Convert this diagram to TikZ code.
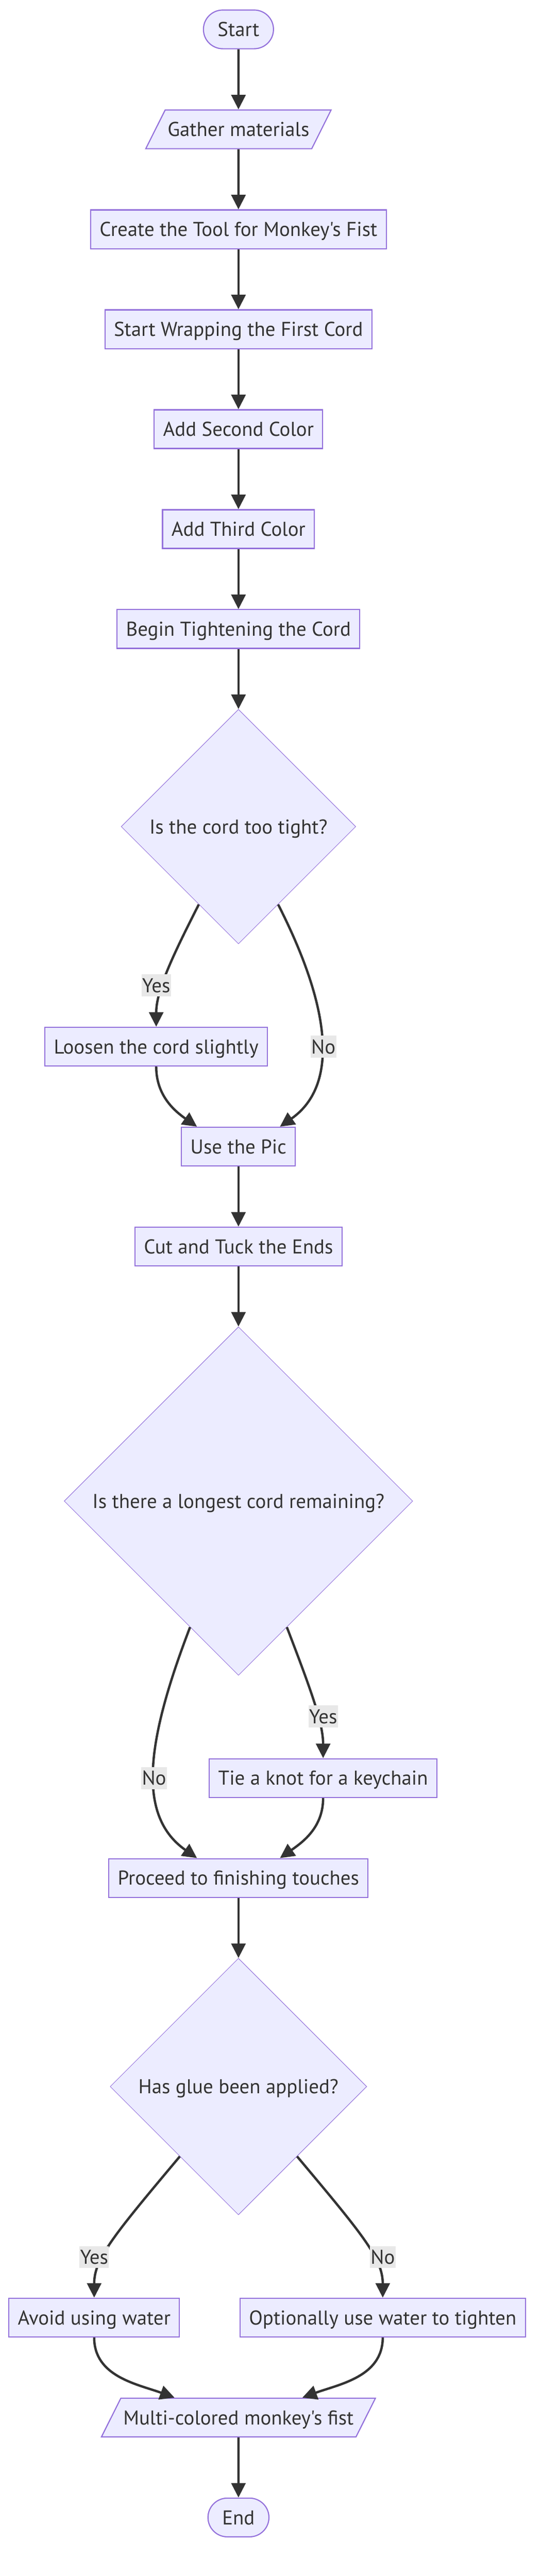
\documentclass[tikz,border=0pt]{standalone}
\usepackage{fontspec}
\setmainfont{PT Sans}[Ligatures=TeXOff]
\usetikzlibrary{positioning,shapes.geometric,arrows.meta}

\definecolor{nodefill}{HTML}{ECECFF}
\definecolor{nodeline}{HTML}{9370DB}
\definecolor{inkgray}{HTML}{333333}
\definecolor{labelfill}{HTML}{E8E8E8}

\begin{document}
\begin{tikzpicture}[
            node distance=87pt,
            every node/.style={font=\fontsize{29}{35}\selectfont, text=inkgray},
            stepnode/.style={rectangle, draw=nodeline, fill=nodefill, line width=1.6pt, text height=24.65pt, text depth=4.35pt, inner xsep=12.9pt, inner ysep=13.5pt},
            termnode/.style={stepnode, rounded corners=28pt, inner xsep=20.6pt},
            ionode/.style={trapezium, trapezium left angle=63.4, trapezium right angle=116.6, draw=nodeline, fill=nodefill, line width=1.6pt, text height=24.65pt, text depth=4.35pt, inner xsep=3.5pt, inner ysep=13.5pt},
            decisionnode/.style={diamond, aspect=1, draw=nodeline, fill=nodefill, line width=0.7pt, text height=24.65pt, text depth=4.35pt, inner sep=13.2pt},
            labelnode/.style={rectangle, fill=labelfill, text height=24.65pt, text depth=4.35pt, inner xsep=1pt, inner ysep=1.5pt},
            arr/.style={-{Triangle[length=21pt,width=20.5pt]}, line width=3.4pt, draw=inkgray},
            ]
            \useasboundingbox (0,0) rectangle (784pt,-3727pt);
            % Nodes
            \node[termnode] (start) at (345pt,-42.5pt) {Start};
            \node[ionode] (gather) [below=of start] {Gather materials};
            \node[stepnode] (tool) [below=of gather] {Create the Tool for Monkey's Fist};
            \node[stepnode] (wrap) [below=of tool] {Start Wrapping the First Cord};
            \node[stepnode] (second) [below=of wrap] {Add Second Color};
            \node[stepnode] (third) [below=of second] {Add Third Color};
            \node[stepnode] (tighten) [below=of third] {Begin Tightening the Cord};
            \node[decisionnode] (tight) [below=of tighten] {Is the cord too tight?};
            \node[stepnode] (loosen) [below=119.5pt of tight, xshift=-119pt] {Loosen the cord slightly};
            \node[stepnode] (pic) [below=of loosen, xshift=119pt] {Use the Pic};
            \node[stepnode] (tuck) [below=of pic] {Cut and Tuck the Ends};
            \node[decisionnode] (longest) [below=of tuck] {Is there a longest cord remaining?};
            \node[stepnode] (keychain) [below=119.5pt of longest, xshift=122.5pt] {Tie a knot for a keychain};
            \node[stepnode] (finish) [below=of keychain, xshift=-122.5pt] {Proceed to finishing touches};
            \node[decisionnode] (glue) [below=of finish] {Has glue been applied?};
            \node[stepnode] (avoid) [below=119.5pt of glue, xshift=-208.75pt] {Avoid using water};
            \node[stepnode] (water) [below=119.5pt of glue, xshift=208.75pt] {Optionally use water to tighten};
            \node[ionode] (fist) [below=of avoid, xshift=208.75pt] {Multi-colored monkey's fist};
            \node[termnode] (end) [below=of fist] {End};
            
            % Lines
            \draw[arr] (start) -- (gather);
            \draw[arr] (gather) -- (tool);
            \draw[arr] (tool) -- (wrap);
            \draw[arr] (wrap) -- (second);
            \draw[arr] (second) -- (third);
            \draw[arr] (third) -- (tighten);
            \draw[arr] (tighten) -- (tight);
            \draw[arr] (tight) to[out=-117, in=90, out looseness=1.2, in looseness=0.7] (loosen);
            \draw[arr] (tight) to[out=-63, in=35, out looseness=1.4, in looseness=0.8] ([xshift=60pt]pic.north);
            \draw[arr] (loosen) to[out=-90, in=145] ([xshift=-60pt]pic.north);
            \draw[arr] (pic) -- (tuck);
            \draw[arr] (tuck) -- (longest);
            \draw[arr] (longest) to[out=-69, in=90, out looseness=1.3, in looseness=0.65] (keychain);
            \draw[arr] (longest) to[out=-111, in=145, out looseness=1.4, in looseness=0.8] ([xshift=-60pt]finish.north);
            \draw[arr] (keychain) to[out=-90, in=35] ([xshift=60pt]finish.north);
            \draw[arr] (finish) -- (glue);
            \draw[arr] (glue) to[out=-130, in=90, out looseness=1.6, in looseness=0.6] (avoid);
            \draw[arr] (glue) to[out=-50, in=90, out looseness=1.6, in looseness=0.6] (water);
            \draw[arr] (avoid) to[out=-90, in=160] ([xshift=-92.5pt]fist.90);
            \draw[arr] (water) to[out=-90, in=20] ([xshift=92.5pt]fist.90);
            \draw[arr] (fist) -- (end);
            
            % Labels
            \node[labelnode] (yes1) [above=43.5pt of loosen] {Yes};
            \node[labelnode] (no1) [right=61.5pt of loosen] {No};
            \node[labelnode] (yes2) [above=44pt of keychain] {Yes};
            \node[labelnode] (no2) [left=60.5pt of keychain] {No};
            \node[labelnode] (yes3) [above=42.5pt of avoid] {Yes};
            \node[labelnode] (no3) [above=42.5pt of water] {No};
        \end{tikzpicture}
\end{document}
